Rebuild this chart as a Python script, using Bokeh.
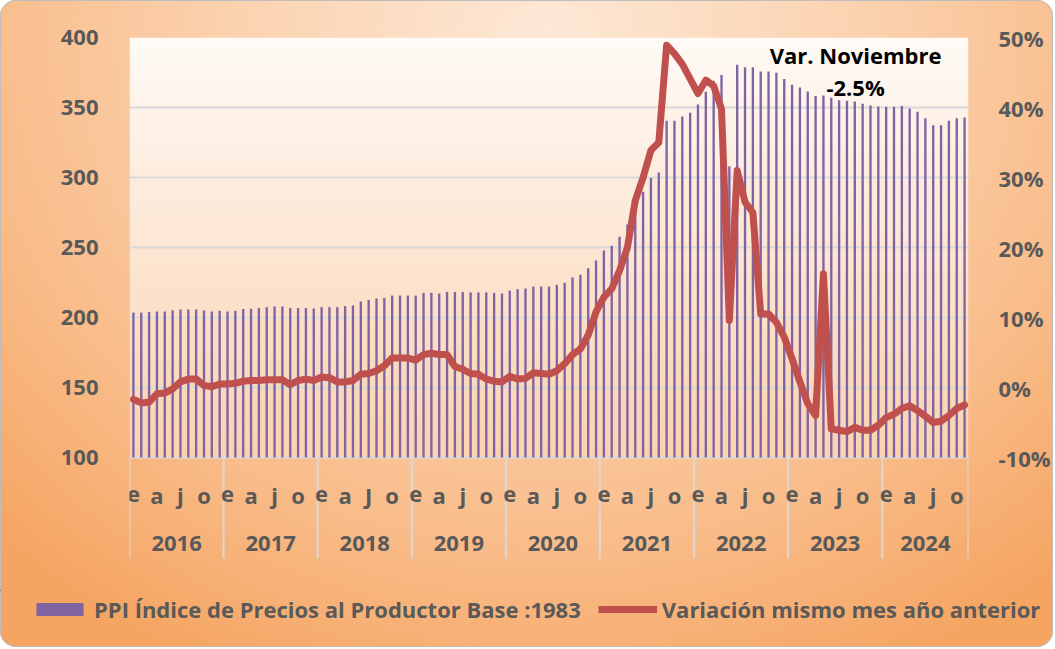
import numpy as np
from bokeh.plotting import figure
from bokeh.layouts import column, row
from bokeh.models import (Range1d, LinearAxis, FixedTicker, PrintfTickFormatter,
                          Legend, LegendItem, Label)
from bokeh.core.properties import value
from bokeh.embed import file_html
from bokeh.resources import INLINE

# ---------------- data ----------------
years = ["2016", "2017", "2018", "2019", "2020", "2021", "2022", "2023", "2024"]
month_letters = [
    ["e", "a", "j", "o"], ["e", "a", "j", "o"], ["e", "a", "J", "o"],
    ["e", "a", "j", "o"], ["e", "a", "j", "o"], ["e", "a", "j", "o"],
    ["e", "a", "j", "o"], ["e", "a", "j", "o"], ["e", "a", "j", "o"],
]
month_letter_offsets = [0, 3, 6, 9]

ppi = [
    203.6, 203.6, 204.0, 204.3, 204.3, 205.2, 205.7, 205.7, 205.7, 205.0, 204.3, 204.8,
    204.3, 204.8, 206.0, 206.2, 206.7, 207.4, 207.9, 207.9, 206.7, 206.7, 206.7, 206.4,
    207.4, 207.4, 207.4, 208.1, 208.6, 211.5, 212.6, 213.6, 214.0, 215.7, 215.7, 215.7,
    215.7, 217.6, 217.6, 217.1, 218.3, 218.3, 218.3, 217.9, 217.9, 217.9, 217.6, 217.1,
    219.3, 220.2, 220.7, 222.1, 222.1, 222.1, 223.3, 224.8, 228.6, 230.5, 235.2, 240.7,
    247.9, 251.2, 257.7, 266.5, 277.0, 289.8, 299.6, 303.6, 340.5, 340.5, 343.6, 346.2,
    352.2, 361.2, 369.1, 373.3, 308.1, 380.5, 378.8, 378.8, 375.7, 375.7, 374.8, 370.3,
    366.2, 364.3, 361.4, 358.3, 358.6, 356.9, 355.2, 354.8, 354.3, 352.6, 351.4, 350.7,
    350.5, 350.5, 351.0, 349.3, 346.9, 342.4, 337.4, 337.4, 340.5, 342.4, 342.9,
]

variacion = [
    -1.7, -2.2, -2.1, -0.9, -0.8, -0.2, 0.8, 1.2, 1.2, 0.3, 0.1, 0.5,
    0.5, 0.6, 0.9, 1.0, 1.0, 1.1, 1.1, 1.1, 0.4, 1.0, 1.2, 1.0,
    1.5, 1.4, 0.8, 0.8, 1.0, 1.9, 2.0, 2.4, 3.1, 4.2, 4.2, 4.2,
    3.9, 4.7, 4.9, 4.7, 4.7, 3.0, 2.6, 2.0, 1.9, 1.2, 0.9, 0.8,
    1.6, 1.2, 1.3, 2.1, 2.0, 1.9, 2.4, 3.4, 4.7, 5.5, 7.5, 10.8,
    12.9, 14.1, 16.7, 20.0, 26.7, 30.0, 33.9, 35.0, 48.9, 47.7, 46.2, 44.1,
    42.0, 43.9, 43.1, 39.8, 9.6, 31.0, 26.5, 25.0, 10.5, 10.5, 9.3, 7.2,
    4.1, 0.8, -2.3, -4.0, 16.2, -5.9, -6.1, -6.3, -5.7, -6.1, -6.1, -5.4,
    -4.3, -3.8, -3.0, -2.6, -3.3, -4.1, -5.0, -4.8, -4.0, -3.0, -2.5,
]

left_ticks = [100, 150, 200, 250, 300, 350, 400]
right_ticks = [-10, 0, 10, 20, 30, 40, 50]

label_ppi = "PPI Índice de Precios al Productor Base :1983"
label_var = "Variación mismo mes año anterior"
note_title = "Var. Noviembre"
note_value = "-2.5%"

# ---------------- layout constants ----------------
W = 1053
H1, H2 = 590, 57
FRAME_LEFT, FRAME_RIGHT = 129, 969
FRAME_TOP, FRAME_BOTTOM = 37, 560
FRAME_H = FRAME_BOTTOM - FRAME_TOP
PX_L = 70 / 50.0          # px per unit on left axis
PX_R = 7.0                # px per % on right axis
y_top_l, y_top_r = 400.0, 50.0
y_bot_l = y_top_l - FRAME_H / PX_L
y_bot_r = y_top_r - FRAME_H / PX_R

def ly(page_y):
    return y_top_l - (page_y - FRAME_TOP) / PX_L

n = len(ppi)
xs = list(range(n))

FONT = "Open Sans"
GREY = "#595959"
PURPLE = "#8064A2"
RED = "#C0504D"

p = figure(width=W, height=H1, x_range=Range1d(-0.5, n - 0.5),
           y_range=Range1d(y_bot_l, y_top_l), x_axis_type=None,
           output_backend="svg", toolbar_location=None,
           min_border_left=FRAME_LEFT, min_border_right=W - FRAME_RIGHT,
           min_border_top=FRAME_TOP, min_border_bottom=H1 - FRAME_BOTTOM)
p.border_fill_color = None
p.background_fill_color = None
p.outline_line_color = None

# plot-area gradient background (100..400)
nb = 64
grad = np.zeros((nb, 1), dtype=np.uint32)
view = grad.view(dtype=np.uint8).reshape((nb, 1, 4))
bottom_c = np.array([0xFB, 0xD3, 0xB1])
top_c = np.array([0xFF, 0xFA, 0xF6])
for i in range(nb):
    t = i / (nb - 1)
    c = bottom_c * (1 - t) + top_c * t
    view[i, 0, 0:3] = c.astype(np.uint8)
    view[i, 0, 3] = 255
bg = p.image_rgba(image=[grad], x=-0.5, y=left_ticks[0], dw=n, dh=left_ticks[-1] - left_ticks[0])
bg.level = "image"

# grid
p.ygrid.ticker = FixedTicker(ticks=left_ticks)
p.ygrid.grid_line_color = "#D9D9D9"
p.ygrid.grid_line_width = 2
p.xgrid.visible = False

# left axis
ax = p.yaxis[0]
ax.ticker = FixedTicker(ticks=left_ticks)
ax.axis_line_color = None
ax.major_tick_line_color = None
ax.minor_tick_line_color = None
ax.major_label_standoff = 25
ax.major_label_text_font = FONT
ax.major_label_text_font_style = "bold"
ax.major_label_text_font_size = "22px"
ax.major_label_text_color = GREY

# right axis
p.extra_y_ranges = {"pct": Range1d(y_bot_r, y_top_r)}
rax = LinearAxis(y_range_name="pct", ticker=FixedTicker(ticks=right_ticks),
                 formatter=PrintfTickFormatter(format="%d%%"))
rax.axis_line_color = None
rax.major_tick_line_color = None
rax.minor_tick_line_color = None
rax.major_label_standoff = 24
rax.major_label_text_font = FONT
rax.major_label_text_font_style = "bold"
rax.major_label_text_font_size = "22px"
rax.major_label_text_color = GREY
p.add_layout(rax, "right")

# bars
bars = p.vbar(x=xs, top=ppi, bottom=left_ticks[0], width=0.3,
              fill_color=PURPLE, line_color=None)
# line
ln = p.line(x=xs, y=variacion, y_range_name="pct", line_color=RED,
            line_width=7, line_join="round", line_cap="round")

# category axis (months / years) drawn inside extended frame
bounds = [-0.5 + 12 * k for k in range(len(years))] + [n - 0.5]
p.segment(x0=bounds, y0=[left_ticks[0]] * len(bounds), x1=bounds,
          y1=[ly(558)] * len(bounds), line_color="#D9D9D9", line_width=2)

mx, mt = [], []
for k, letters in enumerate(month_letters):
    for off, L in zip(month_letter_offsets, letters):
        idx = 12 * k + off
        if idx < n:
            mx.append(idx)
            mt.append(L)
p.text(x=mx, y=[ly(494)] * len(mx), text=mt, text_font=value(FONT),
       text_font_style="bold", text_font_size="22px", text_color=GREY,
       text_align="center", text_baseline="middle")

yx = [(bounds[k] + bounds[k + 1]) / 2 for k in range(len(years))]
p.text(x=yx, y=[ly(543)] * len(yx), text=years, text_font=value(FONT),
       text_font_style="bold", text_font_size="22px", text_color=GREY,
       text_align="center", text_baseline="middle")

# annotation
for txt, py in [(note_title, 54), (note_value, 86.5)]:
    p.add_layout(Label(x=92.1, y=ly(py), text=txt, text_align="center",
                       text_baseline="middle", text_font=FONT,
                       text_font_style="bold", text_font_size="22px",
                       text_color="#000000"))

# ---------------- legend strip ----------------
# proxies: same series drawn in a strip whose range keeps them out of view
p2 = figure(width=W, height=H2, x_range=Range1d(1000, 1000 + W), y_range=Range1d(-2000, -2000 + H2),
            x_axis_type=None, y_axis_type=None, output_backend="svg",
            toolbar_location=None, min_border=0, min_border_left=0,
            min_border_right=0, min_border_top=0, min_border_bottom=0)
p2.border_fill_color = None
p2.background_fill_color = None
p2.outline_line_color = None
p2.grid.visible = False
leg_bar = p2.vbar(x=xs, top=ppi, bottom=left_ticks[0], width=0.3,
                  fill_color=PURPLE, line_color=None)
leg_line = p2.line(x=xs, y=ppi, line_color=RED, line_width=7)
legend = Legend(items=[LegendItem(label=label_ppi, renderers=[leg_bar]),
                       LegendItem(label=label_var, renderers=[leg_line])],
                location=(30, 23), orientation="horizontal",
                background_fill_alpha=0, border_line_color=None,
                glyph_width=59, glyph_height=16, label_standoff=5,
                spacing=17, padding=0, margin=0,
                label_text_font=FONT, label_text_font_style="bold",
                label_text_font_size="22px", label_text_color=GREY)
p2.add_layout(legend)

layout = column(p, row(p2), spacing=0)
layout.styles = {
    "background": "radial-gradient(ellipse 75% 110% at 52% 5%, #FDE8D6 0%, #FBD2AF 40%, #F9BC8A 72%, #F5A461 100%)",
    "border-radius": "16px",
    "box-shadow": "inset 0 0 0 1px #BDBDBD",
}

open("out.html", "w").write(file_html(layout, INLINE))
